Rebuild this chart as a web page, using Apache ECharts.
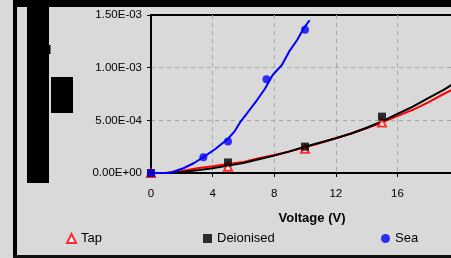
<!DOCTYPE html>
<html>
<head>
<meta charset="utf-8">
<script src="https://cdn.jsdelivr.net/npm/echarts@6/dist/echarts.min.js"></script>
<style>
  html, body { margin: 0; padding: 0; background: #d9d9d9; }
  #chart { width: 451px; height: 258px; }
</style>
</head>
<body>
<div id="chart"></div>
<script>
// measured points (voltage V, current)
const tapV = [0, 5, 10, 15];
const tapI = [0, 0.6e-4, 2.3e-4, 4.8e-4];
const deionV = [0, 5, 10, 15];
const deionI = [0, 1.0e-4, 2.5e-4, 5.35e-4];
const seaV = [0, 3.4, 5, 7.5, 10];
const seaI = [0, 1.5e-4, 3.0e-4, 8.9e-4, 1.36e-3];

// continuous traces
const traceV = [0, 1, 2, 3, 4, 5, 6, 7, 8, 9, 10, 11, 12, 13, 14, 15, 16, 17, 18, 19, 20];
const tapTraceI = [0, 0.02e-4, 0.2e-4, 0.45e-4, 0.65e-4, 0.85e-4, 1.05e-4, 1.4e-4, 1.7e-4, 2.05e-4, 2.45e-4,
  2.85e-4, 3.3e-4, 3.75e-4, 4.25e-4, 4.8e-4, 5.4e-4, 6.0e-4, 6.7e-4, 7.5e-4, 8.2e-4];
const deionTraceI = [0, 0, 0.1e-4, 0.25e-4, 0.45e-4, 0.7e-4, 0.95e-4, 1.3e-4, 1.65e-4, 2.05e-4, 2.5e-4,
  2.9e-4, 3.3e-4, 3.75e-4, 4.3e-4, 4.9e-4, 5.6e-4, 6.3e-4, 7.1e-4, 7.9e-4, 8.8e-4];
const seaTraceV = [0, 1.2, 2.1, 2.8, 3.4, 4.2, 5.0, 5.4, 5.8, 6.2, 6.9, 7.4, 7.9, 8.5, 9.0, 9.5, 9.9, 10.3];
const seaTraceI = [0, 0, 0.45e-4, 0.95e-4, 1.5e-4, 2.3e-4, 3.25e-4, 3.9e-4, 4.85e-4, 5.6e-4, 6.95e-4,
  8.0e-4, 9.3e-4, 10.25e-4, 11.6e-4, 12.65e-4, 13.7e-4, 14.5e-4];

const xTicks = { min: 0, max: 20, step: 4 };
const yTicks = { min: 0, max: 1.5e-3, step: 5e-4 };

const zip = (xs, ys) => xs.map((x, i) => [x, ys[i]]);
const font = "'Liberation Sans', Arial, sans-serif";

function sciLabel(v) {
  const parts = Number(v).toExponential(2).split('e');
  const exp = parseInt(parts[1], 10);
  const sign = exp < 0 ? '-' : '+';
  const abs = Math.abs(exp);
  return parts[0] + 'E' + sign + (abs < 10 ? '0' + abs : abs);
}

const chart = echarts.init(document.getElementById('chart'));

const legendBase = {
  orient: 'horizontal',
  padding: 0,
  itemWidth: 9,
  itemHeight: 9,
  top: 232,
  textStyle: { color: '#000', fontSize: 13, fontFamily: font }
};

chart.setOption({
  animation: false,
  backgroundColor: '#d9d9d9',
  grid: {
    left: 151,
    top: 15,
    width: 308,
    height: 158,
    outerBoundsMode: 'none',
    containLabel: false,
    show: true,
    borderColor: '#000',
    borderWidth: 2,
    backgroundColor: 'transparent'
  },
  legend: [
    Object.assign({ left: 66, data: ['Tap'] }, legendBase),
    Object.assign({ left: 203, data: ['Deionised'] }, legendBase),
    Object.assign({ left: 381, data: ['Sea'] }, legendBase)
  ],
  xAxis: {
    type: 'value',
    min: xTicks.min,
    max: xTicks.max,
    interval: xTicks.step,
    name: 'Voltage (V)',
    nameLocation: 'middle',
    nameGap: 39,
    nameTextStyle: {
      color: '#000',
      fontSize: 13,
      fontWeight: 'bold',
      fontFamily: font,
      padding: [0, 0, 0, 14]
    },
    axisLine: { show: true, lineStyle: { color: '#000', width: 2 } },
    axisTick: { show: true, length: 4, lineStyle: { color: '#000', width: 1 } },
    axisLabel: { color: '#000', fontSize: 11.5, fontFamily: font, margin: 15 },
    splitLine: { show: true, showMinLine: false, lineStyle: { color: '#a6a6a6', type: [4, 4], width: 1 } }
  },
  yAxis: {
    type: 'value',
    min: yTicks.min,
    max: yTicks.max,
    interval: yTicks.step,
    axisLine: { show: true, lineStyle: { color: '#000', width: 2 } },
    axisTick: { show: true, length: 4, lineStyle: { color: '#000', width: 1 } },
    axisLabel: { color: '#000', fontSize: 11.5, fontFamily: font, margin: 9, formatter: sciLabel },
    splitLine: {
      show: true,
      showMinLine: false,
      showMaxLine: false,
      lineStyle: { color: '#a6a6a6', type: [4, 4], width: 1 }
    }
  },
  series: [
    {
      name: 'Tap trace',
      type: 'line',
      showSymbol: false,
      z: 2,
      lineStyle: { color: '#ff0000', width: 2 },
      data: zip(traceV, tapTraceI)
    },
    {
      name: 'Deionised trace',
      type: 'line',
      showSymbol: false,
      z: 3,
      lineStyle: { color: '#000', width: 2 },
      data: zip(traceV, deionTraceI)
    },
    {
      name: 'Sea trace',
      type: 'line',
      showSymbol: false,
      z: 4,
      lineStyle: { color: '#0000ff', width: 2 },
      data: zip(seaTraceV, seaTraceI)
    },
    {
      name: 'Tap',
      type: 'scatter',
      symbol: 'triangle',
      symbolSize: 8,
      z: 5,
      itemStyle: { color: '#fff', borderColor: '#ff0000', borderWidth: 2 },
      data: zip(tapV, tapI)
    },
    {
      name: 'Deionised',
      type: 'scatter',
      symbol: 'rect',
      symbolSize: 8,
      z: 6,
      itemStyle: { color: '#000' },
      data: zip(deionV, deionI)
    },
    {
      name: 'Sea',
      type: 'scatter',
      symbol: 'circle',
      symbolSize: 8,
      z: 7,
      itemStyle: { color: '#0000ff' },
      data: zip(seaV, seaI)
    }
  ],
  graphic: [
    // outer frame
    { type: 'rect', shape: { x: 13, y: 0, width: 4, height: 258 }, style: { fill: '#000' } },
    { type: 'rect', shape: { x: 13, y: 0, width: 438, height: 7 }, style: { fill: '#000' } },
    { type: 'rect', shape: { x: 13, y: 255, width: 438, height: 3 }, style: { fill: '#111' } },
    // blacked-out axis title
    { type: 'rect', shape: { x: 27, y: 7, width: 22, height: 176 }, style: { fill: '#000' } },
    { type: 'rect', shape: { x: 49, y: 45, width: 1.5, height: 9 }, style: { fill: '#000' } },
    { type: 'rect', shape: { x: 51, y: 77, width: 22, height: 36 }, style: { fill: '#000' } }
  ]
});
</script>
</body>
</html>
